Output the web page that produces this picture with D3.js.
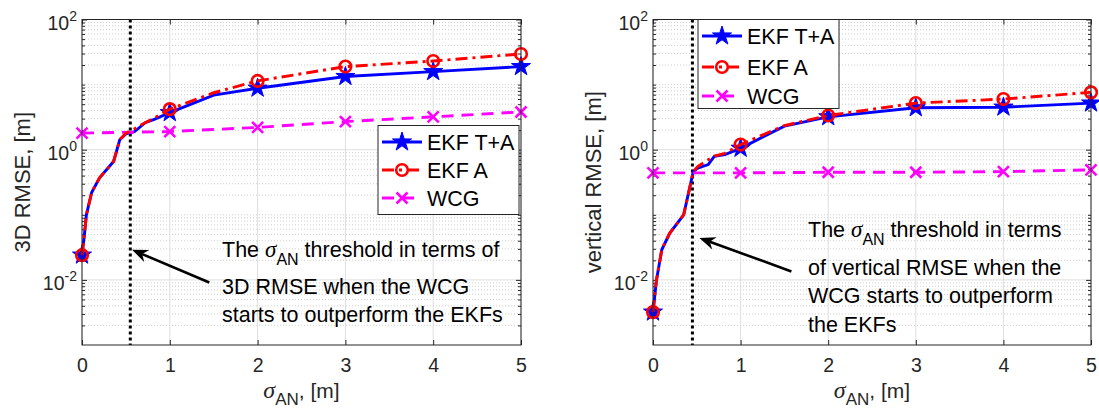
<!doctype html>
<html lang='en'>
<head>
<meta charset='utf-8' />
<style>
  * { padding: 0; margin: 0; }
  body { background: #fff; }
  svg { display: block; font-family: 'Liberation Sans', Arial, Helvetica, sans-serif; }
</style>
<title>RMSE vs sigma_AN</title>
</head>
<body>
<div id='container'></div>
<script src='https://d3js.org/d3.v7.min.js'></script>
<script type='text/javascript'>

// shared axis setup
var xTicks = [0, 1, 2, 3, 4, 5];
var yTickExps = [-2, 0, 2];
var seriesNames = ['EKF T+A', 'EKF A', 'WCG'];
var wcgSigma = [0, 1, 2, 3, 4, 5];

// left panel: 3D RMSE
var leftSigma = [0, 0.03, 0.05, 0.11, 0.2, 0.36, 0.43, 0.5, 0.6, 0.72, 0.83, 1, 1.5, 2, 3, 4, 5];
var leftEkfTA = [0.024, 0.053, 0.10, 0.22, 0.37, 0.66, 1.42, 1.75, 1.9, 2.6, 2.95, 3.7, 6.9, 8.8, 13.3, 15.8, 18.9];
var leftEkfA  = [0.024, 0.053, 0.10, 0.22, 0.37, 0.66, 1.42, 1.8, 2.1, 2.6, 3.1, 4.2, 7.5, 11.4, 18.9, 23, 29.5];
var leftWcg   = [1.8, 1.9, 2.2, 2.7, 3.2, 3.8];
var leftThreshold = 0.55;

// right panel: vertical RMSE
var rightSigma = [0, 0.04, 0.1, 0.19, 0.35, 0.46, 0.51, 0.63, 0.7, 0.82, 1, 1.5, 2, 3, 4, 5];
var rightEkfTA = [0.0032, 0.010, 0.029, 0.052, 0.10, 0.46, 0.52, 0.59, 0.79, 0.84, 1.05, 2.3, 3.2, 4.4, 4.5, 5.2];
var rightEkfA  = [0.0032, 0.010, 0.029, 0.052, 0.10, 0.46, 0.55, 0.70, 0.80, 0.88, 1.2, 2.35, 3.35, 5.2, 6.0, 7.6];
var rightWcg   = [0.44, 0.44, 0.45, 0.45, 0.46, 0.49];
var rightThreshold = 0.45;

const W = 1099, H = 415;
const axTop = 19.5, axBottom = 345;
const axisColor = '#262626';
const lw = 2.9;

var svg = d3.select('#container').append('svg')
    .attr('width', W)
    .attr('height', H);

var starPath = function(r) {
  var pts = [];
  for (var i = 0; i < 10; i++) {
    var a = -Math.PI / 2 + i * Math.PI / 5;
    var rr = (i % 2 === 0) ? r : r * 0.382;
    pts.push([rr * Math.cos(a), rr * Math.sin(a)]);
  }
  return 'M' + pts.map(function(p) { return p[0].toFixed(2) + ',' + p[1].toFixed(2); }).join('L') + 'Z';
};

var drawMarker = function(g, kind, cx, cy) {
  if (kind === 'star') {
    g.append('path').attr('d', starPath(10))
      .attr('transform', 'translate(' + cx + ',' + cy + ')')
      .attr('fill', '#0000ff').attr('stroke', '#0000ff').attr('stroke-width', 1);
  } else if (kind === 'circle') {
    g.append('circle').attr('cx', cx).attr('cy', cy).attr('r', 5.8)
      .attr('fill', 'none').attr('stroke', '#ff0000').attr('stroke-width', 2.6);
  } else {
    var s = 5.5;
    g.append('path')
      .attr('d', 'M' + (cx - s) + ',' + (cy - s) + 'L' + (cx + s) + ',' + (cy + s) +
                 'M' + (cx - s) + ',' + (cy + s) + 'L' + (cx + s) + ',' + (cy - s))
      .attr('stroke', '#ff00ff').attr('stroke-width', 2.6);
  }
};

var styles = [
  { color: '#0000ff', dash: null, marker: 'star' },
  { color: '#ff0000', dash: '12,5,3,5', marker: 'circle' },
  { color: '#ff00ff', dash: '12,8', marker: 'x' }
];

// text with sigma_AN
var sigmaText = function(sel, before, after, size, subSize, subDy) {
  sel.append('tspan').text(before);
  sel.append('tspan').text('\u03c3').attr('font-family', "'Liberation Serif', serif")
    .attr('font-style', 'italic').attr('font-size', size);
  sel.append('tspan').text('AN').attr('font-size', subSize).attr('dy', subDy);
  sel.append('tspan').text(after).attr('dy', -subDy);
};

var drawPanel = function(p) {
  var g = svg.append('g');
  var x = d3.scaleLinear().domain([0, 5]).range([p.x0, p.x1]);
  var y = d3.scaleLog().domain([1e-3, 1e2]).range([axBottom, axTop]);

  // minor y values
  var minorY = [];
  for (var e = -3; e < 2; e++) {
    for (var k = 1; k < 10; k++) {
      if (k === 1 && (yTickExps.indexOf(e) >= 0 || e === -3)) continue;
      minorY.push(k * Math.pow(10, e));
    }
  }
  var majorY = yTickExps.map(function(e) { return Math.pow(10, e); });

  // grid
  g.selectAll('.mgrid').data(minorY).enter().append('line')
    .attr('x1', p.x0).attr('x2', p.x1)
    .attr('y1', function(d) { return y(d); }).attr('y2', function(d) { return y(d); })
    .attr('stroke', '#c4c4c4').attr('stroke-width', 0.8).attr('stroke-dasharray', '1,2');
  g.selectAll('.ygrid').data(majorY).enter().append('line')
    .attr('x1', p.x0).attr('x2', p.x1)
    .attr('y1', function(d) { return y(d); }).attr('y2', function(d) { return y(d); })
    .attr('stroke', '#dedede').attr('stroke-width', 1);
  g.selectAll('.xgrid').data(xTicks).enter().append('line')
    .attr('x1', function(d) { return x(d); }).attr('x2', function(d) { return x(d); })
    .attr('y1', axTop).attr('y2', axBottom)
    .attr('stroke', '#dedede').attr('stroke-width', 1);

  // axes ticks
  var mk = function(axis) { return axis.tickSizeOuter(0); };
  g.append('g').attr('transform', 'translate(0,' + axBottom + ')')
    .call(mk(d3.axisBottom(x).tickValues(xTicks).tickSize(-5).tickPadding(13).tickFormat(d3.format('d'))))
    .call(function(a) {
      a.select('.domain').remove();
      a.selectAll('line').attr('stroke', axisColor);
      a.selectAll('text').attr('font-size', 19.5).attr('fill', axisColor)
        .attr('font-family', "'Liberation Sans', Arial, sans-serif");
    });
  g.append('g').attr('transform', 'translate(0,' + axTop + ')')
    .call(mk(d3.axisTop(x).tickValues(xTicks).tickSize(-5).tickFormat('')))
    .call(function(a) { a.select('.domain').remove(); a.selectAll('line').attr('stroke', axisColor); });
  [['L', p.x0], ['R', p.x1]].forEach(function(side) {
    var ax = side[0] === 'L' ? d3.axisLeft : d3.axisRight;
    g.append('g').attr('transform', 'translate(' + side[1] + ',0)')
      .call(mk(ax(y).tickValues(minorY).tickSize(-3).tickFormat('')))
      .call(function(a) { a.select('.domain').remove(); a.selectAll('line').attr('stroke', axisColor); });
    g.append('g').attr('transform', 'translate(' + side[1] + ',0)')
      .call(mk(ax(y).tickValues(majorY).tickSize(-5).tickFormat('')))
      .call(function(a) { a.select('.domain').remove(); a.selectAll('line').attr('stroke', axisColor); });
  });

  // y tick labels 10^n
  yTickExps.forEach(function(e) {
    var t = g.append('text').attr('x', p.x0 - 5).attr('y', y(Math.pow(10, e)) + 10)
      .attr('text-anchor', 'end').attr('font-size', 19.5).attr('fill', axisColor);
    t.append('tspan').text('10');
    t.append('tspan').text(String(e)).attr('font-size', 14).attr('dy', -9);
  });

  // threshold line
  g.append('line')
    .attr('x1', x(p.threshold)).attr('x2', x(p.threshold))
    .attr('y1', axTop).attr('y2', axBottom)
    .attr('stroke', '#000').attr('stroke-width', 3).attr('stroke-dasharray', '3,3');

  // series
  var series = [
    { xs: p.sigma, ys: p.ekfTA },
    { xs: p.sigma, ys: p.ekfA },
    { xs: wcgSigma, ys: p.wcg }
  ];
  var line = d3.line().x(function(d) { return x(d[0]); }).y(function(d) { return y(d[1]); });
  var order = [0, 2, 1];
  order.forEach(function(i) {
    var s = series[i], st = styles[i];
    var pts = s.xs.map(function(v, j) { return [v, s.ys[j]]; });
    g.append('path').datum(pts).attr('d', line)
      .attr('fill', 'none').attr('stroke', st.color).attr('stroke-width', lw)
      .attr('stroke-dasharray', st.dash);
    pts.filter(function(d) { return xTicks.indexOf(d[0]) >= 0; }).forEach(function(d) {
      drawMarker(g, st.marker, x(d[0]), y(d[1]));
    });
  });

  // box
  g.append('rect').attr('x', p.x0).attr('y', axTop)
    .attr('width', p.x1 - p.x0).attr('height', axBottom - axTop)
    .attr('fill', 'none').attr('stroke', axisColor).attr('stroke-width', 1);

  // arrow
  var ax1 = x(p.arrow[0][0]), ay1 = y(p.arrow[0][1]);
  var ax2 = x(p.arrow[1][0]), ay2 = y(p.arrow[1][1]);
  var ang = Math.atan2(ay2 - ay1, ax2 - ax1);
  var hl = 16, hw = 6.5, back = 11;
  var ux = Math.cos(ang), uy = Math.sin(ang);
  g.append('line').attr('x1', ax1).attr('y1', ay1)
    .attr('x2', ax2 - ux * back).attr('y2', ay2 - uy * back)
    .attr('stroke', '#000').attr('stroke-width', 2.6);
  var hp = [
    [ax2, ay2],
    [ax2 - ux * hl - uy * hw, ay2 - uy * hl + ux * hw],
    [ax2 - ux * back, ay2 - uy * back],
    [ax2 - ux * hl + uy * hw, ay2 - uy * hl - ux * hw]
  ];
  g.append('path').attr('d', 'M' + hp.join('L') + 'Z').attr('fill', '#000');

  // annotation text
  p.note.forEach(function(ln, i) {
    var t = g.append('text').attr('x', p.noteX).attr('y', p.noteY[i])
      .attr('font-size', 21.5).attr('fill', '#000');
    if (i === 0) sigmaText(t, ln[0], ln[1], 23, 16, 8);
    else t.text(ln);
  });

  // legend
  var lg = g.append('g');
  lg.append('rect').attr('x', p.legend.x).attr('y', p.legend.y)
    .attr('width', p.legend.w).attr('height', p.legend.h)
    .attr('fill', '#fff').attr('stroke', axisColor).attr('stroke-width', 1);
  seriesNames.forEach(function(name, i) {
    var cy = p.legend.rows[i], st = styles[i];
    var lx0 = p.legend.x + 4, lx1 = p.legend.x + 44;
    lg.append('line').attr('x1', lx0).attr('x2', lx1).attr('y1', cy).attr('y2', cy)
      .attr('stroke', st.color).attr('stroke-width', lw).attr('stroke-dasharray', st.dash);
    drawMarker(lg, st.marker, (lx0 + lx1) / 2, cy);
    lg.append('text').attr('x', lx1 + 5).attr('y', cy + 7.5)
      .attr('font-size', 21.5).attr('fill', '#000').text(name);
  });

  // axis labels
  svg.append('text').attr('transform', 'translate(' + p.ylabX + ',' + ((axTop + axBottom) / 2) + ') rotate(-90)')
    .attr('text-anchor', 'middle').attr('font-size', 22).attr('fill', axisColor).text(p.ylabel);
  var xl = svg.append('text').attr('x', (p.x0 + p.x1) / 2).attr('y', 398)
    .attr('text-anchor', 'middle').attr('font-size', 21).attr('fill', axisColor);
  sigmaText(xl, '', ', [m]', 24, 17, 7);
};

drawPanel({
  x0: 82, x1: 521,
  sigma: leftSigma, ekfTA: leftEkfTA, ekfA: leftEkfA, wcg: leftWcg,
  threshold: leftThreshold,
  arrow: [[1.45, 0.0091], [0.57, 0.029]],
  note: [['The ', ' threshold in terms of'], '3D RMSE when the WCG', 'starts to outperform the EKFs'],
  noteX: 222, noteY: [257, 294, 322],
  legend: { x: 378, y: 125.5, w: 141, h: 89, rows: [142, 170, 198] },
  ylabel: '3D RMSE, [m]', ylabX: 30
});

drawPanel({
  x0: 653, x1: 1091,
  sigma: rightSigma, ekfTA: rightEkfTA, ekfA: rightEkfA, wcg: rightWcg,
  threshold: rightThreshold,
  arrow: [[1.58, 0.0135], [0.53, 0.044]],
  note: [['The ', ' threshold in terms'], 'of vertical RMSE when the', 'WCG starts to outperform', 'the EKFs'],
  noteX: 808, noteY: [237, 275, 303, 332],
  legend: { x: 698, y: 19.5, w: 141, h: 89, rows: [36, 67, 96] },
  ylabel: 'vertical RMSE, [m]', ylabX: 601
});
</script>
</body>
</html>
